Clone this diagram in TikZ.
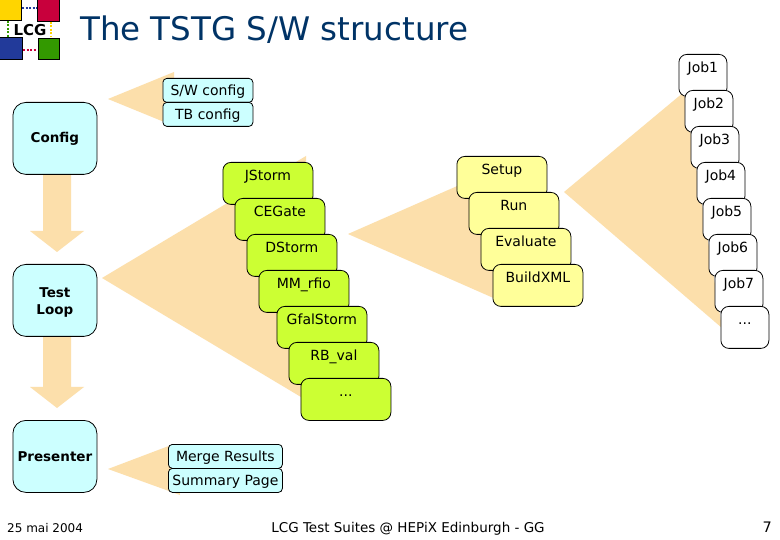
\documentclass[tikz,border=0pt]{standalone}
\usepackage{fontspec}
\setmainfont{DejaVu Sans}
\usetikzlibrary{positioning}
\definecolor{wedgeorange}{HTML}{FCDFAB}
\definecolor{boxblue}{HTML}{CCFFFF}
\definecolor{boxgreen}{HTML}{CCFF33}
\definecolor{boxyellow}{HTML}{FFFF99}
\definecolor{titlenavy}{HTML}{003366}
\definecolor{logoyellow}{HTML}{FFD500}
\definecolor{logored}{HTML}{C8003C}
\definecolor{logoblue}{HTML}{223A9A}
\definecolor{logogreen}{HTML}{339900}
\begin{document}
\begin{tikzpicture}[x=1pt,y=-1pt,font=\fontsize{14}{16}\selectfont,
  card/.style={draw=black,line width=.8pt,rounded corners=8pt,anchor=north west,
    align=center,inner sep=0pt},
  stepcard/.style={card,minimum width=90pt,minimum height=42pt,text height=10pt,text depth=16pt},
  jobcard/.style={card,fill=white,minimum width=48pt,minimum height=42pt,text height=10pt,text depth=16pt},
  smallcard/.style={card,fill=boxblue,rounded corners=4pt,minimum height=24pt,text height=10pt,text depth=0pt},
  mainbox/.style={draw=black,line width=.8pt,rounded corners=13pt,fill=boxblue,anchor=north west,
    minimum width=84pt,minimum height=72pt,align=center,inner sep=0pt,font=\fontsize{13.5}{17}\selectfont\bfseries},
  wedge/.style={fill=wedgeorange,draw=none},
  logoframe/.style={draw=black,line width=.8pt},
  logolink/.style={line width=1.2pt,dash pattern=on 2pt off 1.5pt}]
  \useasboundingbox (0,0) rectangle (780,540);
  \fill[white] (0,0) rectangle (780,540);

  % logo
  \fill[logoyellow,logoframe] (-1,-1) rectangle (21,20);
  \fill[logored,logoframe] (37,-1) rectangle (59,21);
  \fill[logoblue,logoframe] (-1,37) rectangle (22,59);
  \fill[logogreen,logoframe] (38,38) rectangle (59,59);
  \draw[logoblue,logolink] (22,8) -- (37,8);
  \draw[logored,logolink] (23,50) -- (37,50);
  \draw[logogreen,logolink] (8,21) -- (8,37);
  \draw[logoyellow,logolink] (51,22) -- (51,37);
  \node[inner sep=0pt,font=\fontsize{15}{15}\selectfont\bfseries] (logo) at (30,30) {LCG};

  \node[anchor=west,text=titlenavy,inner sep=0pt,font=\fontsize{32.5}{36}\selectfont] (title) at (80,30) {The TSTG S/W structure};

  % wedges and arrows
  \fill[wedge] (108,99) -- (174,72) -- (174,126) -- cycle;
  \fill[wedge] (102,278) -- (306,156) -- (306,400) -- cycle;
  \fill[wedge] (348,234) -- (480,176) -- (498,300) -- cycle;
  \fill[wedge] (564,192) -- (684,92) -- (722,328) -- cycle;
  \fill[wedge] (108,469) -- (174,444) -- (180,495) -- cycle;
  \fill[wedge] (43,174) -- (71,174) -- (71,231) -- (84,231) -- (57,252) -- (30,231) -- (43,231) -- cycle;
  \fill[wedge] (43,336) -- (71,336) -- (71,387) -- (84,387) -- (57,408) -- (30,387) -- (43,387) -- cycle;

  % main boxes
  \node[mainbox] (config) at (12.5,102) {Config};
  \node[mainbox] (testloop) at (12.5,264) {\rule{0pt}{14pt}Test\\Loop};
  \node[mainbox] (presenter) at (12.5,420) {Presenter};

  \node[smallcard,minimum width=90pt] (swconfig) at (162.5,78) {S/W config};
  \node[smallcard,minimum width=90pt] (tbconfig) at (162.5,102) {TB config};
  \node[smallcard,minimum width=114pt] (merge) at (168,444) {Merge Results};
  \node[smallcard,minimum width=114pt] (summary) at (168,468) {Summary Page};

  \foreach \x/\y/\lab/\name in {222.5/162/JStorm/jstorm,234.5/198/CEGate/cegate,246.5/234/DStorm/dstorm,
      258.5/270/MM\_rfio/mmrfio,276.5/306/GfalStorm/gfalstorm,288.5/342/RB\_val/rbval} {
    \node[stepcard,fill=boxgreen] (\name) at (\x,\y) {\lab};
  }
  \node[stepcard,fill=boxgreen] (moretests) at (300.5,378) {...};
  \foreach \x/\y/\lab/\name in {456.5/156/Setup/setup,468.5/192/Run/run,480.5/228/Evaluate/evaluate,492.5/264/BuildXML/buildxml} {
    \node[stepcard,fill=boxyellow] (\name) at (\x,\y) {\lab};
  }
  \foreach \x/\y/\lab/\name in {678.5/54/Job1/jobone,684.5/90/Job2/jobtwo,690.5/126/Job3/jobthree,696.5/162/Job4/jobfour,
      702.5/198/Job5/jobfive,708.5/234/Job6/jobsix,714.5/270/Job7/jobseven} {
    \node[jobcard] (\name) at (\x,\y) {\lab};
  }
  \node[jobcard] (morejobs) at (720.5,306) {...};

  % footer
  \node[anchor=base west,inner sep=0pt,font=\fontsize{12}{14}\selectfont] (date) at (7,532) {25 mai 2004};
  \node[anchor=base,inner sep=0pt,font=\fontsize{13.5}{16}\selectfont] (footer) at (408,532) {LCG Test Suites @ HEPiX Edinburgh - GG};
  \node[anchor=base east,inner sep=0pt,font=\fontsize{14.5}{17}\selectfont] (page) at (772,532.5) {7};
\end{tikzpicture}
\end{document}
